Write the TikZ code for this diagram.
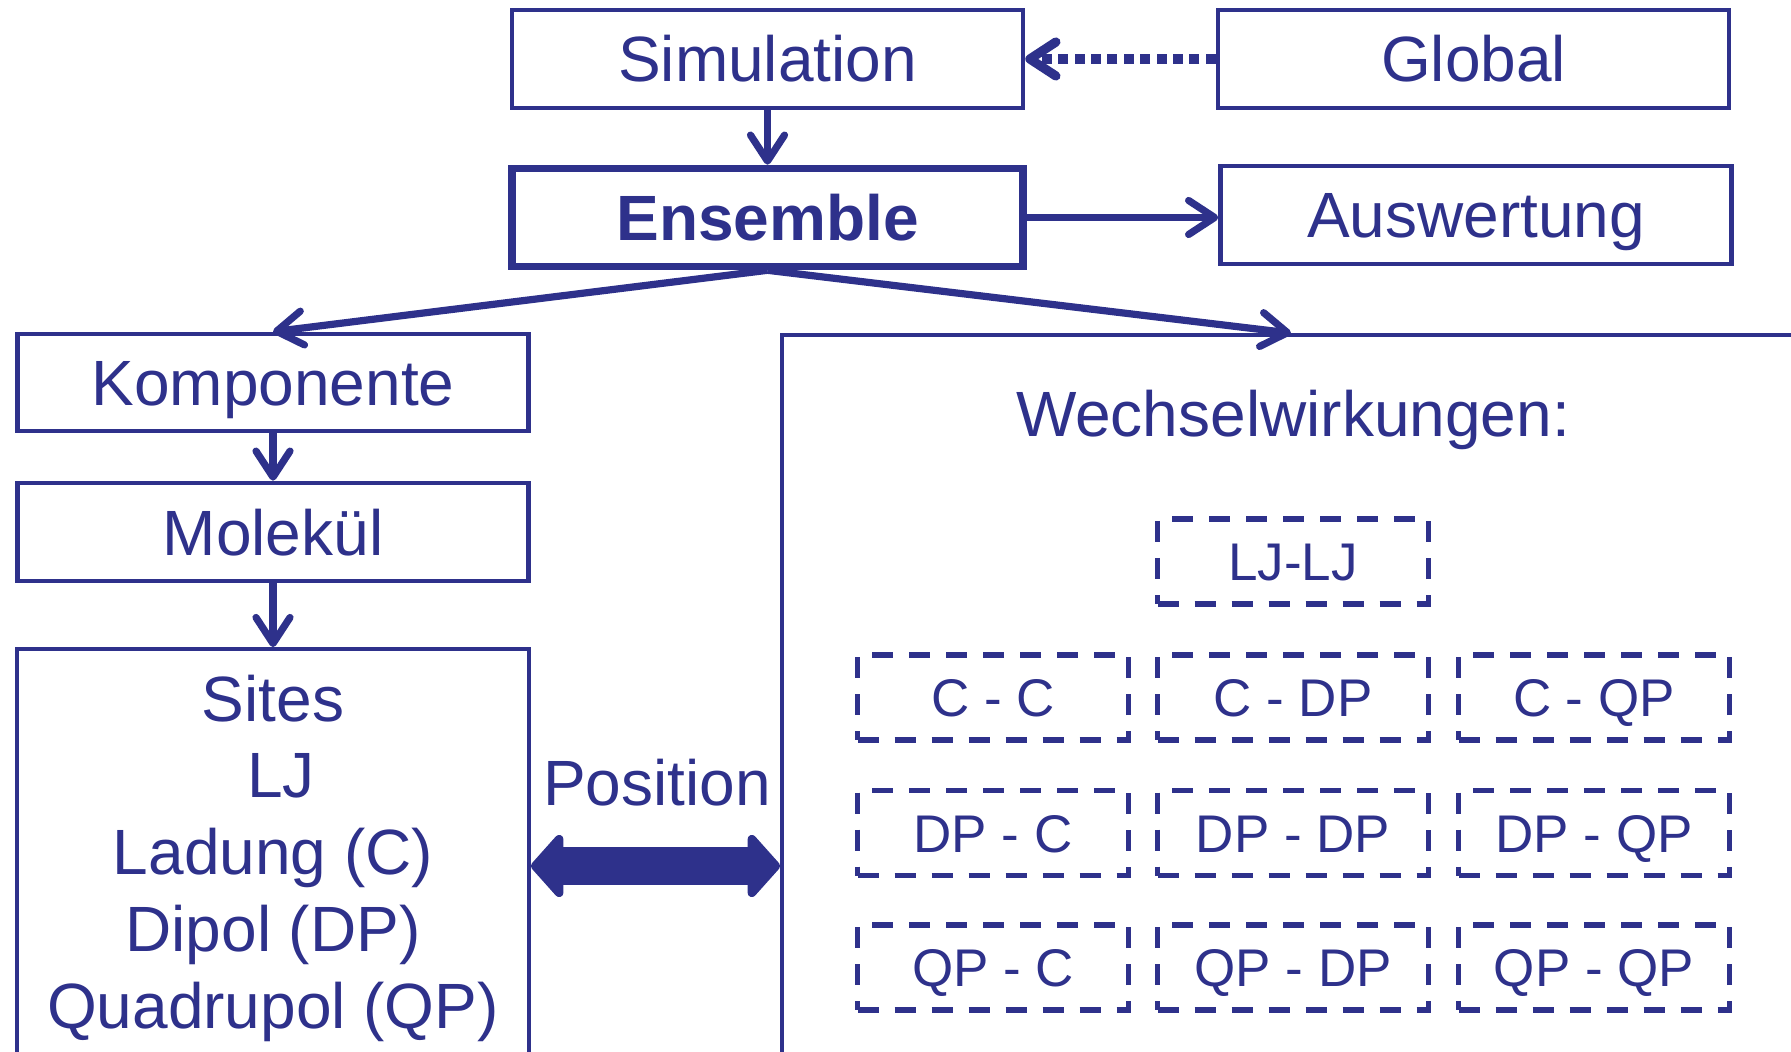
\documentclass[tikz,border=0pt]{standalone}
\usepackage{fontspec}
\setmainfont{Liberation Sans}
\usetikzlibrary{arrows.meta}
\definecolor{navy}{RGB}{46,49,139}
\begin{document}
\begin{tikzpicture}[x=0.5pt,y=-0.5pt,
  every node/.style={text=navy, font=\fontsize{32pt}{38.4pt}\selectfont},
  box/.style={draw=navy, line width=2.3pt, inner sep=0pt, minimum width=255.5pt, minimum height=49pt, text height=23pt, text depth=0pt},
  thickbox/.style={box, line width=3.8pt},
  bigbox/.style={draw=navy, line width=1.9pt, inner sep=0pt},
  ibox/.style={draw=navy, line width=2.6pt, dash pattern=on 10.5pt off 8pt, inner sep=0pt, minimum width=135.5pt, minimum height=42.5pt, font=\fontsize{26.5pt}{30pt}\selectfont, text height=19pt, text depth=0pt},
  conn/.style={draw=navy, line width=3.6pt, -{Straight Barb[round, length=13pt, width=17pt]}},
  dotconn/.style={conn, line width=4.6pt, dash pattern=on 5pt off 3.2pt},
  dblarrow/.style={draw=navy, line width=19pt, {Triangle[round, length=17pt, width=37pt]}-{Triangle[round, length=17pt, width=37pt]}},
  lbl/.style={anchor=base}
]
\useasboundingbox (0,0) rectangle (1791,1052);
\clip (0,0) rectangle (1791,1052);
\fill[white] (0,0) rectangle (1791,1052);

% main boxes
\node[box] (sim) at (767.5,59) {Simulation};
\node[box] (glob) at (1473.5,59) {Global};
\node[thickbox, font=\fontsize{32pt}{38.4pt}\selectfont\bfseries] (ens) at (767.5,217.5) {Ensemble};
\node[box] (ausw) at (1476,215) {Auswertung};
\node[box, minimum height=48.5pt] (komp) at (273,382.5) {Komponente};
\node[box] (mol) at (273,532) {Molekül};
\node[bigbox, minimum width=256pt, minimum height=225.5pt] (sites) at (273,874.5) {};
\node[bigbox, minimum width=509pt, minimum height=382.5pt] (wbox) at (1291,717.5) {};

% texts
\node[lbl] (wtitle) at (1293,437) {Wechselwirkungen:};
\node[lbl] (pos) at (657,805) {Position};
\node[lbl] (s1) at (273,721) {Sites};
\node[lbl] (s2) at (281,797.8) {LJ};
\node[lbl] (s3) at (273,874.6) {Ladung (C)};
\node[lbl] (s4) at (273,951.4) {Dipol (DP)};
\node[lbl] (s5) at (273,1028.2) {Quadrupol (QP)};

% interaction boxes
\node[ibox] (ljlj) at (1293,561.5) {LJ-LJ};
\node[ibox] (cc)   at (993,697.5)  {C - C};
\node[ibox] (cdp)  at (1293,697.5) {C - DP};
\node[ibox] (cqp)  at (1594,697.5) {C - QP};
\node[ibox] (dpc)  at (993,833)    {DP - C};
\node[ibox] (dpdp) at (1293,833)   {DP - DP};
\node[ibox] (dpqp) at (1594,833)   {DP - QP};
\node[ibox] (qpc)  at (993,967.5)  {QP - C};
\node[ibox] (qpdp) at (1293,967.5) {QP - DP};
\node[ibox] (qpqp) at (1594,967.5) {QP - QP};

% connectors
\draw[conn] (sim) -- (ens);
\draw[dotconn] (glob) -- (sim);
\draw[conn] (ens.east) -- (ens.east -| ausw.west);
\draw[conn] (ens.south) -- (komp.north);
\draw[conn] (ens.south) -- (wbox.north);
\draw[conn] (komp) -- (mol);
\draw[conn] (mol) -- (sites);
\coordinate (dy) at (0,866);
\draw[dblarrow] (sites.east |- dy) -- (wbox.west |- dy);
\end{tikzpicture}
\end{document}
